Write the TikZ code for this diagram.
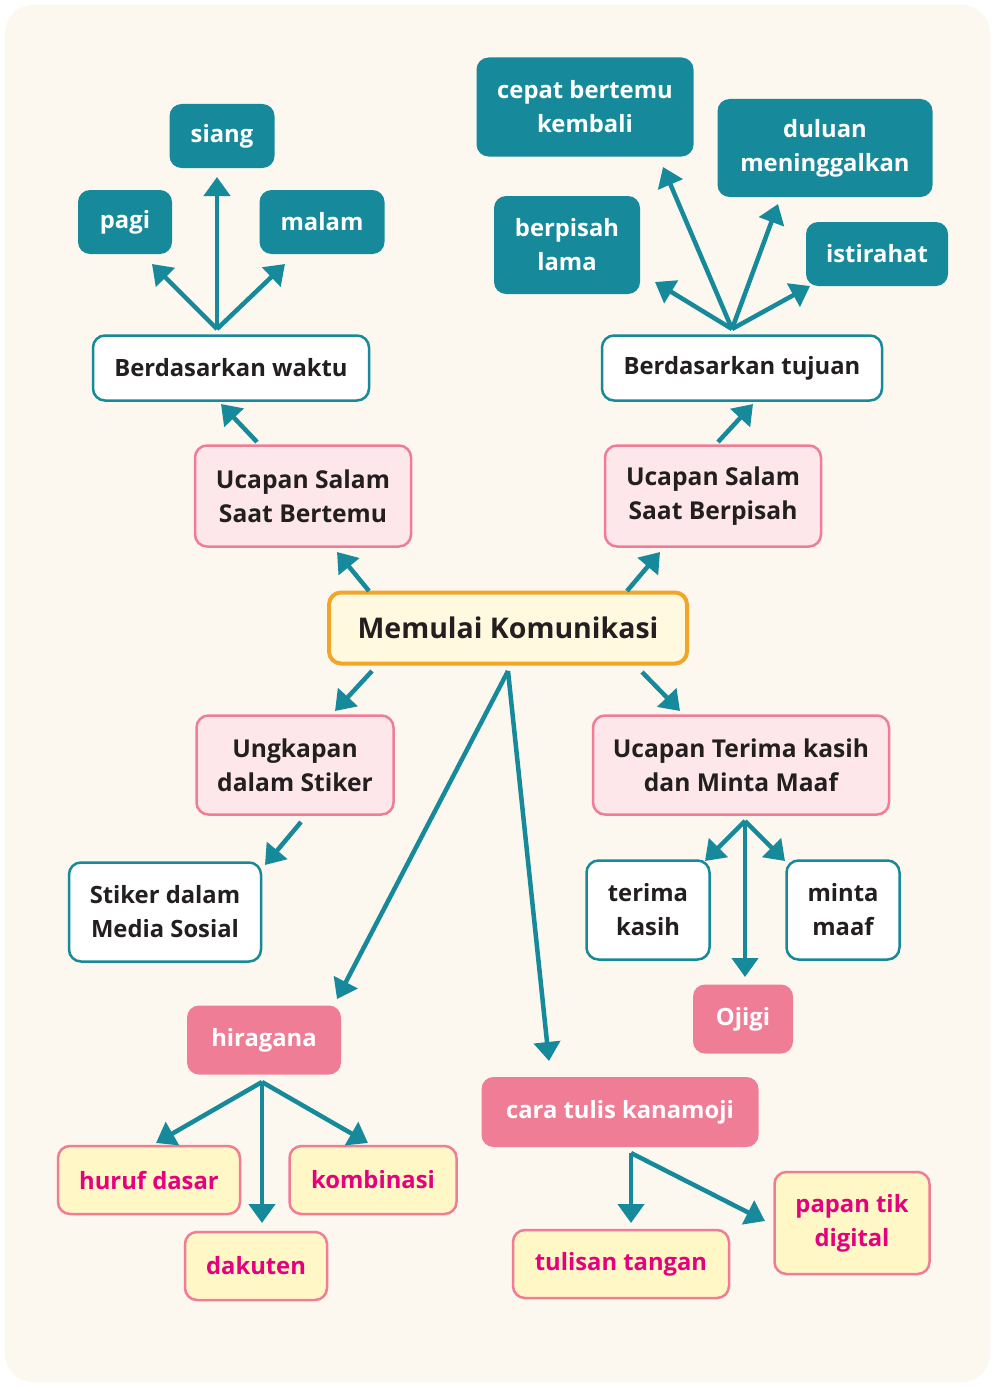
\documentclass[tikz,border=0pt]{standalone}
\usepackage{fontspec}
\setmainfont{Open Sans}
\usetikzlibrary{arrows.meta}
\definecolor{tealc}{HTML}{168A9A}
\definecolor{bgc}{HTML}{FCF7EF}
\definecolor{pinkb}{HTML}{F07D96}
\definecolor{pinkf}{HTML}{FDE7EA}
\definecolor{yelf}{HTML}{FFF8C6}
\definecolor{memf}{HTML}{FFFADF}
\definecolor{orangeb}{HTML}{F2A527}
\definecolor{magt}{HTML}{E5007D}
\definecolor{darkt}{HTML}{231F20}
\tikzset{
  base/.style={rounded corners=12, inner sep=0pt, align=center, font=\bfseries\fontsize{23.8}{34}\selectfont},
  tealbox/.style={base, fill=tealc, text=white},
  outbox/.style={base, fill=white, draw=tealc, line width=2.5, text=darkt},
  pinkbox/.style={base, fill=pinkf, draw=pinkb, line width=2.5, text=darkt, font=\bfseries\fontsize{24.6}{34}\selectfont},
  pinksolid/.style={base, fill=pinkb, text=white},
  yelbox/.style={base, fill=yelf, draw=pinkb, line width=2.5, text=magt},
  mainbox/.style={base, fill=memf, draw=orangeb, line width=4, text=darkt, font=\bfseries\fontsize{28.5}{34}\selectfont},
  arr/.style={draw=tealc, line width=4.5, -{Triangle[width=26pt,length=19pt]}},
}
\begin{document}
\begin{tikzpicture}[x=1pt,y=-1pt]
\useasboundingbox (0,0) rectangle (994,1386);
\fill[white] (0,0) rectangle (994,1386);
\fill[bgc, rounded corners=28] (5,5) rectangle (990,1382);

% top-left group
\node[tealbox, minimum width=105, minimum height=64] (siang) at (222,136) {siang};
\node[tealbox, minimum width=94, minimum height=64] (pagi) at (125,222) {pagi};
\node[tealbox, minimum width=125, minimum height=64] (malam) at (322,222) {malam};
\node[outbox, minimum width=276, minimum height=65] (waktu) at (231,368) {Berdasarkan waktu};

% top-right group
\node[tealbox, minimum width=217, minimum height=99] (cepat) at (585,107) {cepat bertemu\\kembali};
\node[tealbox, minimum width=215, minimum height=98] (duluan) at (825,148) {duluan\\meninggalkan};
\node[tealbox, minimum width=146, minimum height=98] (berpisah) at (567,245) {berpisah\\lama};
\node[tealbox, minimum width=142, minimum height=64] (istirahat) at (877,254) {istirahat};
\node[outbox, minimum width=280, minimum height=65] (tujuan) at (742,368) {Berdasarkan tujuan};

% second level
\node[pinkbox, minimum width=216, minimum height=101] (bertemu) at (303,496) {Ucapan Salam\\Saat Bertemu};
\node[pinkbox, minimum width=216, minimum height=101] (berpisahS) at (713,496) {Ucapan Salam\\Saat Berpisah};
\node[mainbox, minimum width=358, minimum height=71] (main) at (508,628) {Memulai Komunikasi};

\node[pinkbox, minimum width=197, minimum height=99] (ungkapan) at (295,765) {Ungkapan\\dalam Stiker};
\node[pinkbox, minimum width=296, minimum height=99] (terimaS) at (741,765) {Ucapan Terima kasih\\dan Minta Maaf};
\node[outbox, minimum width=192, minimum height=99] (stiker) at (165,912) {Stiker dalam\\Media Sosial};
\node[outbox, minimum width=123, minimum height=99] (terima) at (648,910) {terima\\kasih};
\node[outbox, minimum width=113, minimum height=99] (minta) at (843,910) {minta\\maaf};
\node[pinksolid, minimum width=100, minimum height=69] (ojigi) at (743,1019) {Ojigi};

\node[pinksolid, minimum width=154, minimum height=69] (hiragana) at (264,1040) {hiragana};
\node[pinksolid, minimum width=277, minimum height=70] (cara) at (620,1112) {cara tulis kanamoji};
\node[yelbox, minimum width=182, minimum height=68] (huruf) at (149,1180) {huruf dasar};
\node[yelbox, minimum width=167, minimum height=68] (kombinasi) at (373,1180) {kombinasi};
\node[yelbox, minimum width=142, minimum height=68] (dakuten) at (256,1266) {dakuten};
\node[yelbox, minimum width=216, minimum height=68] (tulisan) at (621,1264) {tulisan tangan};
\node[yelbox, minimum width=155, minimum height=102] (papan) at (852,1223) {papan tik\\digital};

% fan origins and tips
\coordinate (wO) at (217,329);
\coordinate (wP) at (152,264);
\coordinate (wS) at (217,177);
\coordinate (wM) at (285,264);
\draw[arr] (wO) -- (wP);
\draw[arr] (wO) -- (wS);
\draw[arr] (wO) -- (wM);

\coordinate (tO) at (732,329);
\coordinate (tC) at (663,167);
\coordinate (tB) at (655,282);
\coordinate (tD) at (778,204);
\coordinate (tI) at (810,286);
\draw[arr] (tO) -- (tC);
\draw[arr] (tO) -- (tB);
\draw[arr] (tO) -- (tD);
\draw[arr] (tO) -- (tI);

\coordinate (b1) at (257,442);
\coordinate (b2) at (221,404);
\draw[arr] (b1) -- (b2);
\coordinate (p1) at (718,442);
\coordinate (p2) at (753,404);
\draw[arr] (p1) -- (p2);

\coordinate (m1s) at (369,591); \coordinate (m1t) at (337,552);
\draw[arr] (m1s) -- (m1t);
\coordinate (m2s) at (627,591); \coordinate (m2t) at (660,552);
\draw[arr] (m2s) -- (m2t);
\coordinate (m3s) at (372,671); \coordinate (m3t) at (335,711);
\draw[arr] (m3s) -- (m3t);
\coordinate (m4s) at (642,672); \coordinate (m4t) at (680,711);
\draw[arr] (m4s) -- (m4t);
\coordinate (mO) at (508,671);
\coordinate (mH) at (337,999);
\coordinate (mC) at (549,1061);
\draw[arr] (mO) -- (mH);
\draw[arr] (mO) -- (mC);

\coordinate (u1) at (301,822); \coordinate (u2) at (265,865);
\draw[arr] (u1) -- (u2);

\coordinate (eO) at (745,821);
\coordinate (eT) at (705,861);
\coordinate (eM) at (785,861);
\coordinate (eJ) at (745,977);
\draw[arr] (eO) -- (eT);
\draw[arr] (eO) -- (eM);
\draw[arr] (eO) -- (eJ);

\coordinate (hO) at (262,1082);
\coordinate (hH) at (156,1143);
\coordinate (hD) at (262,1223);
\coordinate (hK) at (368,1143);
\draw[arr] (hO) -- (hH);
\draw[arr] (hO) -- (hD);
\draw[arr] (hO) -- (hK);

\coordinate (cO) at (631,1153);
\coordinate (cT) at (631,1223);
\coordinate (cP) at (765,1221);
\draw[arr] (cO) -- (cT);
\draw[arr] (cO) -- (cP);
\end{tikzpicture}
\end{document}
